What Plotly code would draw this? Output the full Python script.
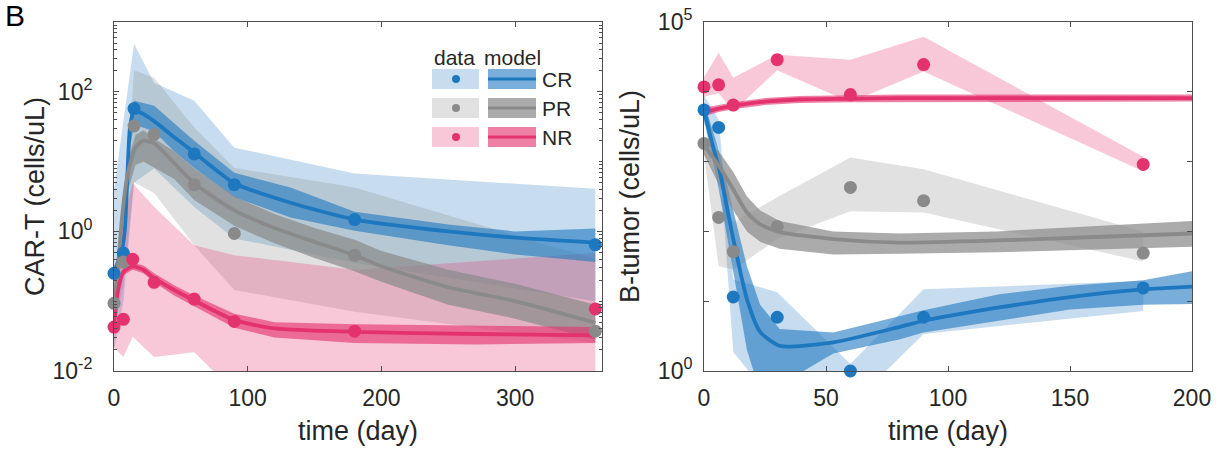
import numpy as np
import plotly.graph_objects as go

# ---------------- data (values read as log10 exponents) ----------------
# Left panel: CAR-T (cells/uL) vs time (day)
cr_t = [0, 7, 15, 60, 90, 180, 360]
cr_obs_log = [-0.6, -0.31, 1.76, 1.11, 0.67, 0.17, -0.19]
pr_t = [0, 7, 15, 30, 60, 90, 180, 360]
pr_obs_log = [-1.03, -0.44, 1.51, 1.39, 0.67, -0.03, -0.34, -1.43]
nr_t = [0, 7, 14, 30, 60, 90, 180, 360]
nr_obs_log = [-1.37, -1.26, -0.4, -0.73, -0.97, -1.29, -1.43, -1.11]

band_t = [0, 7, 15, 30, 60, 90, 180, 360]
cr_band_hi = [0.6, 1.6, 2.69, 2.13, 1.87, 1.2, 0.83, 0.61]
cr_band_lo = [-1.7, -1.0, 0.7, 0.9, 0.35, -0.1, -0.45, -1.0]
pr_band_hi = [-0.8, 0.0, 2.31, 2.2, 1.49, 0.91, 0.63, -0.4]
pr_band_lo = [-1.3, -0.8, 0.7, 0.55, -0.2, -0.84, -1.15, -1.6]
nr_band_t = [0, 7, 14, 30, 60, 90, 180, 360]
nr_band_hi = [-0.6, 0.16, 0.69, 0.35, -0.2, -0.34, -0.55, -0.31]
nr_band_lo = [-1.66, -1.8, -1.51, -1.8, -1.73, -2.3, -2.8, -2.8]

cr_mod_t = [0, 5, 8, 10, 12, 15, 20, 30, 45, 60, 90, 132, 180, 250, 300, 360]
cr_mod = [-0.6, -0.35, 0.0, 0.8, 1.5, 1.72, 1.7, 1.58, 1.35, 1.13, 0.69, 0.41, 0.17, 0.0, -0.09, -0.16]
cr_mod_hi = [-0.5, -0.25, 0.15, 1.0, 1.7, 1.87, 1.85, 1.8, 1.55, 1.3, 0.84, 0.63, 0.28, 0.1, 0.0, 0.04]
cr_mod_lo = [-0.7, -0.45, -0.15, 0.5, 1.2, 1.52, 1.5, 1.43, 1.15, 0.91, 0.49, 0.2, 0.01, -0.2, -0.33, -0.44]

pr_mod_t = [0, 3, 6, 10, 16, 22, 30, 45, 60, 90, 120, 150, 180, 200, 250, 300, 360]
pr_mod = [-1.03, -0.5, 0.2, 0.8, 1.2, 1.3, 1.26, 0.98, 0.69, 0.3, 0.05, -0.15, -0.34, -0.5, -0.8, -1.0, -1.31]
pr_mod_hi = [-0.93, -0.35, 0.4, 1.0, 1.38, 1.45, 1.33, 1.15, 0.9, 0.5, 0.25, 0.05, -0.12, -0.28, -0.55, -0.75, -1.05]
pr_mod_lo = [-1.13, -0.65, 0.0, 0.55, 0.95, 1.0, 0.91, 0.75, 0.45, 0.08, -0.17, -0.38, -0.57, -0.72, -1.05, -1.25, -1.55]

nr_mod_t = [0, 3, 7, 14, 22, 30, 45, 60, 90, 120, 180, 270, 360]
nr_mod = [-1.37, -0.85, -0.58, -0.5, -0.55, -0.67, -0.84, -0.99, -1.27, -1.39, -1.44, -1.47, -1.49]
nr_mod_hi = [-1.3, -0.8, -0.53, -0.45, -0.49, -0.6, -0.77, -0.92, -1.18, -1.3, -1.33, -1.35, -1.37]
nr_mod_lo = [-1.44, -0.9, -0.63, -0.55, -0.6, -0.73, -0.92, -1.08, -1.38, -1.52, -1.6, -1.62, -1.6]

# Right panel: B-tumor (cells/uL) vs time (day)
bt_t = [0, 6, 12, 30, 60, 90, 180]
bt_cr_obs = [3.74, 3.49, 1.06, 0.77, 0.0, 0.77, 1.19]
bt_pr_obs = [3.26, 2.2, 1.71, 2.07, 2.63, 2.44, 1.69]
bt_nr_obs = [4.07, 4.1, 3.81, 4.46, 3.96, 4.39, 2.96]

bt_cr_hi = [3.95, 3.6, 1.31, 1.13, 0.1, 1.17, 1.29]
bt_cr_lo = [3.55, 3.2, 0.27, -0.5, -0.5, 0.53, 0.86]
bt_pr_hi = [3.4, 2.6, 2.13, 2.49, 3.06, 2.89, 2.0]
bt_pr_lo = [3.1, 1.5, 1.45, 1.89, 2.29, 2.27, 1.57]
bt_nr_hi = [4.21, 4.56, 4.2, 4.53, 4.46, 4.79, 3.07]
bt_nr_lo = [3.93, 3.98, 3.72, 4.31, 3.85, 4.29, 2.86]

bt_cr_mod_t = [0, 3, 6.6, 12, 17.6, 23, 31, 53, 80, 90, 121, 150, 180, 200]
bt_cr_mod = [3.74, 3.31, 2.84, 1.89, 1.03, 0.56, 0.36, 0.41, 0.63, 0.72, 0.91, 1.06, 1.17, 1.21]
bt_cr_mod_hi = [3.85, 3.5, 3.1, 2.3, 1.5, 0.95, 0.6, 0.55, 0.78, 0.87, 1.1, 1.22, 1.3, 1.43]
bt_cr_mod_lo = [3.6, 3.1, 2.5, 1.45, 0.3, -0.3, -0.2, 0.25, 0.45, 0.55, 0.72, 0.88, 0.95, 0.96]

bt_pr_mod_t = [0, 7, 12, 17.6, 23, 31, 53, 80, 120, 160, 200]
bt_pr_mod = [3.24, 2.89, 2.6, 2.27, 2.1, 1.99, 1.89, 1.84, 1.87, 1.92, 1.97]
bt_pr_mod_hi = [3.35, 3.1, 2.85, 2.5, 2.3, 2.15, 2.0, 1.97, 2.0, 2.07, 2.15]
bt_pr_mod_lo = [3.1, 2.6, 2.3, 2.0, 1.85, 1.75, 1.67, 1.68, 1.7, 1.74, 1.78]

bt_nr_mod_t = [0, 6, 12, 25, 39, 60, 80, 120, 200]
bt_nr_mod = [3.71, 3.76, 3.8, 3.86, 3.89, 3.9, 3.91, 3.91, 3.91]
bt_nr_mod_hi = [3.77, 3.81, 3.85, 3.91, 3.94, 3.95, 3.96, 3.96, 3.96]
bt_nr_mod_lo = [3.65, 3.71, 3.75, 3.81, 3.84, 3.85, 3.86, 3.86, 3.86]

groups = ["CR", "PR", "NR"]

# ---------------- styles ----------------
FONT = "Liberation Sans, Arial, sans-serif"
TXT = "#262626"
AX = "#4d4d4d"
COL = {"CR": (30, 120, 192), "PR": (138, 138, 138), "NR": (228, 50, 110)}
A_DATA = {"CR": 0.25, "PR": 0.26, "NR": 0.27}
A_MOD = {"CR": 0.6, "PR": 0.72, "NR": 0.62}


def rgba(g, a):
    r, gg, b = COL[g]
    return f"rgba({r},{gg},{b},{a})"


def rgb(g):
    return rgba(g, 1)


def pw(v):
    return list(10.0 ** np.asarray(v, dtype=float))


fig = go.Figure()


def band(t, hi, lo, color, xa, ya):
    fig.add_trace(go.Scatter(
        x=list(t) + list(t)[::-1], y=pw(hi) + pw(lo)[::-1],
        fill="toself", fillcolor=color, mode="lines", line=dict(width=0),
        hoverinfo="skip", showlegend=False, xaxis=xa, yaxis=ya))


def line(t, v, color, xa, ya):
    fig.add_trace(go.Scatter(
        x=t, y=pw(v), mode="lines", line=dict(color=color, width=3.8, shape="spline", smoothing=0.6),
        hoverinfo="skip", showlegend=False, xaxis=xa, yaxis=ya))


def pts(t, v, color, xa, ya):
    fig.add_trace(go.Scatter(
        x=t, y=pw(v), mode="markers", marker=dict(color=color, size=13, line=dict(width=0)),
        cliponaxis=False, showlegend=False, xaxis=xa, yaxis=ya))


# ---- left panel ----
band(band_t, cr_band_hi, cr_band_lo, rgba("CR", A_DATA["CR"]), "x", "y")
band(band_t, pr_band_hi, pr_band_lo, rgba("PR", A_DATA["PR"]), "x", "y")
band(nr_band_t, nr_band_hi, nr_band_lo, rgba("NR", A_DATA["NR"]), "x", "y")
band(cr_mod_t, cr_mod_hi, cr_mod_lo, rgba("CR", A_MOD["CR"]), "x", "y")
band(pr_mod_t, pr_mod_hi, pr_mod_lo, rgba("PR", A_MOD["PR"]), "x", "y")
band(nr_mod_t, nr_mod_hi, nr_mod_lo, rgba("NR", A_MOD["NR"]), "x", "y")
line(cr_mod_t, cr_mod, rgb("CR"), "x", "y")
line(pr_mod_t, pr_mod, rgb("PR"), "x", "y")
line(nr_mod_t, nr_mod, rgb("NR"), "x", "y")
pts(cr_t, cr_obs_log, rgb("CR"), "x", "y")
pts(pr_t, pr_obs_log, rgb("PR"), "x", "y")
pts(nr_t, nr_obs_log, rgb("NR"), "x", "y")

# ---- right panel ----
band(bt_t, bt_cr_hi, bt_cr_lo, rgba("CR", A_DATA["CR"]), "x2", "y2")
band(bt_t, bt_pr_hi, bt_pr_lo, rgba("PR", A_DATA["PR"]), "x2", "y2")
band(bt_t, bt_nr_hi, bt_nr_lo, rgba("NR", A_DATA["NR"]), "x2", "y2")
band(bt_cr_mod_t, bt_cr_mod_hi, bt_cr_mod_lo, rgba("CR", A_MOD["CR"]), "x2", "y2")
band(bt_pr_mod_t, bt_pr_mod_hi, bt_pr_mod_lo, rgba("PR", A_MOD["PR"]), "x2", "y2")
band(bt_nr_mod_t, bt_nr_mod_hi, bt_nr_mod_lo, rgba("NR", A_MOD["NR"]), "x2", "y2")
line(bt_cr_mod_t, bt_cr_mod, rgb("CR"), "x2", "y2")
line(bt_pr_mod_t, bt_pr_mod, rgb("PR"), "x2", "y2")
line(bt_nr_mod_t, bt_nr_mod, rgb("NR"), "x2", "y2")
pts(bt_t, bt_cr_obs, rgb("CR"), "x2", "y2")
pts(bt_t, bt_pr_obs, rgb("PR"), "x2", "y2")
pts(bt_t, bt_nr_obs, rgb("NR"), "x2", "y2")

# ---------------- axes ----------------
W, H = 1216, 450
xl = [114 / W, 602 / W]
xr = [704 / W, 1192 / W]
yd = [1 - 371 / H, 1 - 22 / H]

common = dict(showgrid=False, zeroline=False, showline=True, linecolor=AX, linewidth=1,
              mirror="ticks", ticks="inside", tickcolor=AX, ticklen=5, tickwidth=1,
              tickfont=dict(family=FONT, size=23, color=TXT), automargin=False)
title_font = dict(family=FONT, size=27, color=TXT)

minor_left = [k * 10.0 ** d for d in range(-2, 3) for k in range(1, 10)] + [1000]

fig.update_layout(
    xaxis=dict(domain=xl, range=[0, 365], tickvals=[0, 100, 200, 300], anchor="y",
               ticklabelstandoff=6,
               title=dict(text="time (day)", font=title_font, standoff=11), **common),
    yaxis=dict(domain=yd, type="log", range=[-2, 3], anchor="x",
               tickvals=[0.01, 1, 100], ticktext=["10<sup>-2</sup>", "10<sup>0</sup>", "10<sup>2</sup>"],
               ticklabelstandoff=16,
               minor=dict(tickvals=minor_left, ticks="inside", ticklen=3, tickcolor=AX, showgrid=False),
               title=dict(text="CAR-T (cells/uL)", font=title_font, standoff=0), **common),
    xaxis2=dict(domain=xr, range=[0, 200], tickvals=[0, 50, 100, 150, 200], anchor="y2",
                ticklabelstandoff=6,
                title=dict(text="time (day)", font=title_font, standoff=11), **common),
    yaxis2=dict(domain=yd, type="log", range=[0, 5], anchor="x2",
                tickvals=[1, 100000], ticktext=["10<sup>0</sup>", "10<sup>5</sup>"],
                ticklabelstandoff=6,
                minor=dict(tickvals=[10, 100, 1000, 10000], ticks="inside", ticklen=5, tickcolor=AX,
                           showgrid=False),
                title=dict(text="B-tumor (cells/uL)", font=title_font, standoff=10), **common),
    width=W, height=H, margin=dict(l=0, r=0, t=0, b=0),
    paper_bgcolor="white", plot_bgcolor="white", showlegend=False,
    font=dict(family=FONT, color=TXT),
)

# ---------------- custom legend (data / model) ----------------
def px(x):
    return x / W


def py(y):
    return 1 - y / H


shapes = []
annots = []
annots.append(dict(x=px(454), y=py(57), xref="paper", yref="paper", text="data", showarrow=False,
                   font=dict(family=FONT, size=21, color=TXT), xanchor="center", yanchor="middle"))
annots.append(dict(x=px(512), y=py(57), xref="paper", yref="paper", text="model", showarrow=False,
                   font=dict(family=FONT, size=21, color=TXT), xanchor="center", yanchor="middle"))
for i, g in enumerate(groups):
    cy = 79 + 29 * i
    shapes.append(dict(type="rect", xref="paper", yref="paper", x0=px(432), x1=px(479),
                       y0=py(cy - 10), y1=py(cy + 10), fillcolor=rgba(g, A_DATA[g]), line=dict(width=0)))
    shapes.append(dict(type="circle", xref="paper", yref="paper", x0=px(452), x1=px(460),
                       y0=py(cy - 4), y1=py(cy + 4), fillcolor=rgb(g), line=dict(width=0)))
    shapes.append(dict(type="rect", xref="paper", yref="paper", x0=px(488), x1=px(536),
                       y0=py(cy - 10), y1=py(cy + 10), fillcolor=rgba(g, A_MOD[g]), line=dict(width=0)))
    shapes.append(dict(type="line", xref="paper", yref="paper", x0=px(488), x1=px(536),
                       y0=py(cy), y1=py(cy), line=dict(color=rgb(g), width=3)))
    annots.append(dict(x=px(540), y=py(cy), xref="paper", yref="paper", text=g, showarrow=False,
                       font=dict(family=FONT, size=21, color=TXT), xanchor="left", yanchor="middle"))

annots.append(dict(x=px(3), y=py(-3), xref="paper", yref="paper", text="B", showarrow=False,
                   font=dict(family=FONT, size=30, color="#000000"), xanchor="left", yanchor="top"))

fig.update_layout(shapes=shapes, annotations=annots)

fig.write_html("out.html", config={"displayModeBar": False},
               post_script="document.body.style.margin='0px';")
